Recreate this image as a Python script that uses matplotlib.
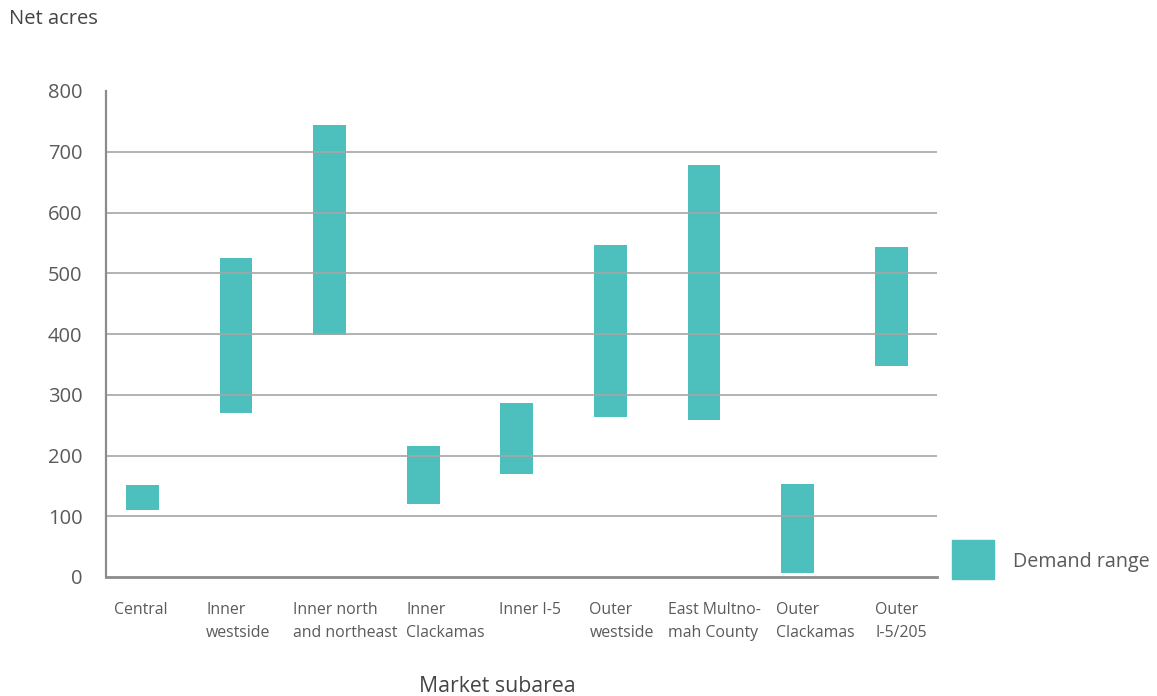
import matplotlib
matplotlib.use("Agg")
import matplotlib.pyplot as plt
from matplotlib.patches import Rectangle
from matplotlib.transforms import offset_copy

# Demand range (net acres) by market subarea
subareas = ["Central", "Inner\nwestside", "Inner north\nand northeast", "Inner\nClackamas",
            "Inner I-5", "Outer\nwestside", "East Multno-\nmah County", "Outer\nClackamas",
            "Outer\nI-5/205"]
demand_low = [110, 270, 398, 120, 170, 263, 258, 7, 347]
demand_high = [151, 525, 744, 216, 286, 546, 678, 153, 543]
y_ticks = [0, 100, 200, 300, 400, 500, 600, 700, 800]

TEAL = "#4dbfbc"
TEXT = "#5a5a5a"
GRID = "#a6a6a6"
plt.rcParams["font.family"] = ["Open Sans", "DejaVu Sans"]

fig = plt.figure(figsize=(11.57, 6.96), dpi=100)
ax = fig.add_axes([106 / 1157, 1 - 577 / 696, (937 - 106) / 1157, (577 - 91) / 696])

x = list(range(len(subareas)))
heights = [h - l for l, h in zip(demand_low, demand_high)]
ax.bar(x, heights, bottom=demand_low, width=0.35, color=TEAL, zorder=1)

ax.set_xlim(-0.39, 8.49)
ax.set_ylim(0, 800)
ax.set_yticks(y_ticks)
ax.set_yticklabels([str(v) for v in y_ticks], fontsize=14.5, color=TEXT)
for v in y_ticks[1:-1]:
    ax.axhline(v, color=GRID, lw=1.2, zorder=2)

for s in ["top", "right"]:
    ax.spines[s].set_visible(False)
ax.spines["left"].set_color("#8c8c8c")
ax.spines["bottom"].set_color("#8c8c8c")
ax.spines["left"].set_linewidth(1.6)
ax.spines["bottom"].set_linewidth(2.0)
ax.spines["left"].set_zorder(3)
ax.spines["bottom"].set_zorder(3)
ax.tick_params(axis="y", length=0, pad=17)
ax.tick_params(axis="x", length=0)
ax.set_xticks(x)
ax.set_xticklabels([])

# Category labels: left-aligned text blocks under each bar
label_shift = [-28, -30, -37, -17, -18, -21, -36, -22, -16]
for xi, name, dx in zip(x, subareas, label_shift):
    tr = offset_copy(ax.transData, fig=fig, x=dx, y=-25, units="dots")
    ax.text(xi, 0, name, transform=tr, ha="left", va="top", fontsize=11.4,
            color=TEXT, linespacing=1.55)

fig.text(9 / 1157, 1 - 19 / 696, "Net acres", fontsize=14.5, color="#444444", ha="left", va="center")
fig.text(497 / 1157, 1 - 687 / 696, "Market subarea", fontsize=15.3, color="#444444",
         ha="center", va="center")

# Legend
fig.patches.append(Rectangle((952 / 1157, 1 - 579 / 696), 42 / 1157, 39 / 696,
                             transform=fig.transFigure, color=TEAL, figure=fig))
fig.text(1013 / 1157, 1 - 562 / 696, "Demand range", fontsize=14.2, color=TEXT,
         ha="left", va="center")

fig.savefig("out.png", dpi=100)
